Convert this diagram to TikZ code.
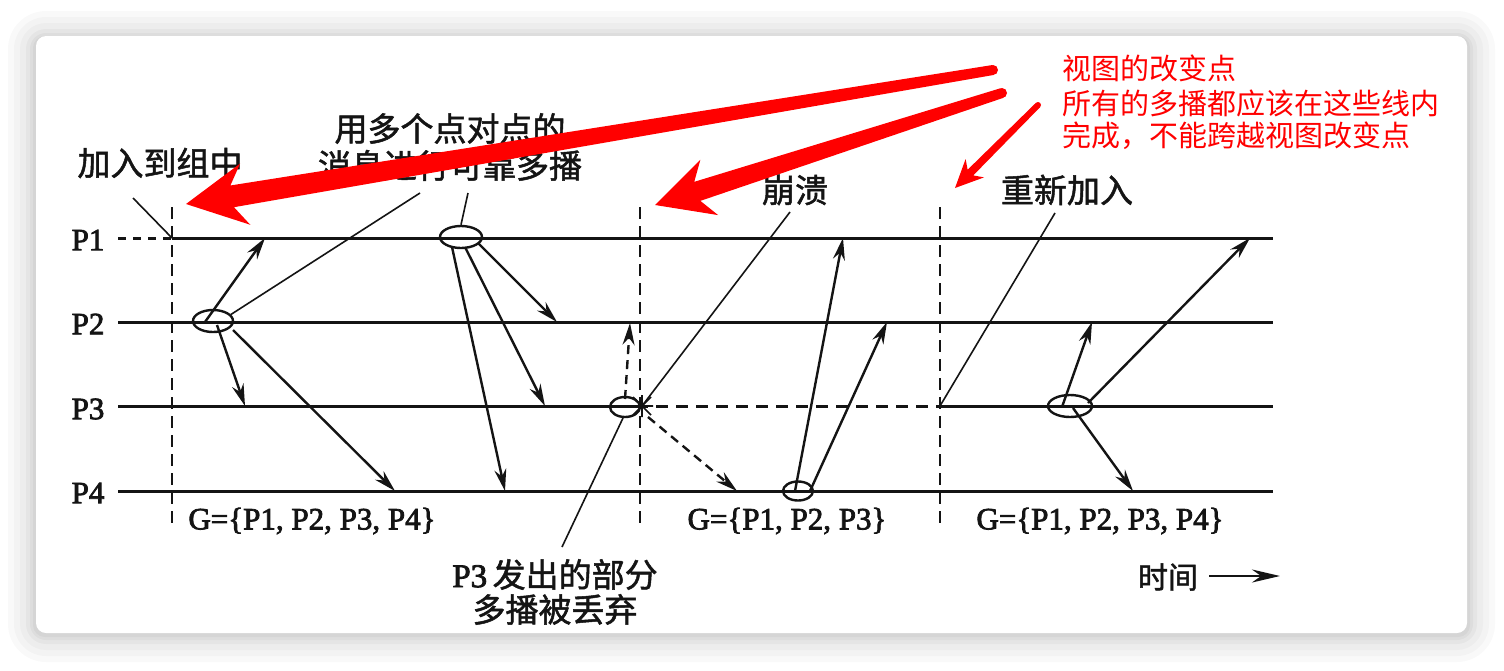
\documentclass[tikz,border=0pt]{standalone}
\usepackage{fontspec}
\setmainfont{Liberation Serif}
\newfontfamily\scanrm{Liberation Serif}[FakeBold=2.5]
\newfontfamily\cjk{Noto Sans CJK SC}[FakeBold=1.5]
\newfontfamily\cjknote{Noto Sans CJK SC}
\usetikzlibrary{arrows.meta,shapes.geometric,calc}

\definecolor{ink}{RGB}{20,20,20}
\definecolor{annored}{RGB}{255,0,0}

\tikzset{
  proc/.style={ink, line width=3pt},
  viewline/.style={ink, line width=2.4pt, dash pattern=on 12pt off 7pt},
  msg/.style={ink, line width=2.4pt, -{Stealth[length=22pt,width=12pt]}},
  lost/.style={msg, dash pattern=on 9pt off 6pt},
  tag/.style={ink, line width=1.6pt},
  ev/.style={draw=ink, line width=2.4pt, ellipse, inner sep=0pt},
  plabel/.style={text=ink, font=\scanrm\fontsize{31}{34}\selectfont},
  glabel/.style={text=ink, font=\scanrm\fontsize{31}{34}\selectfont},
  clabel/.style={text=ink, font=\cjk\fontsize{33}{37}\selectfont, align=center},
  note/.style={text=annored, font=\cjknote\fontsize{29}{34}\selectfont, anchor=west, inner sep=0pt},
}

%% tail, tip, tail half width, shaft half width, head length, head half width
\newcommand{\fatarrow}[6]{%
  \coordinate (fab) at ($(#2)!#5!(#1)$);
  \coordinate (fan) at ($(#2)!0.78!(fab)$);
  \fill[annored] ($(#1)!#3!90:(#2)$) -- ($(fan)!#4!-90:(#1)$) -- ($(fab)!#6!-90:(#1)$) -- (#2)
    -- ($(fab)!#6!90:(#1)$) -- ($(fan)!#4!90:(#1)$) -- ($(#1)!#3!-90:(#2)$) -- cycle;
  \fill[annored] (#1) circle[radius=#3];
}

\begin{document}
\begin{tikzpicture}[x=1pt,y=-1pt]
\useasboundingbox (0,0) rectangle (1504,670);

%% card
\fill[white] (0,0) rectangle (1504,670);
\fill[black, opacity=0.025, rounded corners=38pt] (8,11) rectangle (1495,662);
\fill[black, opacity=0.025, rounded corners=32pt] (14,17) rectangle (1489,656);
\fill[black, opacity=0.025, rounded corners=26pt] (20,23) rectangle (1483,650);
\fill[black, opacity=0.03, rounded corners=20pt] (26,29) rectangle (1477,644);
\fill[black, opacity=0.03, rounded corners=16pt] (30,33) rectangle (1473,640);
\fill[black, opacity=0.035, rounded corners=12pt] (33,36) rectangle (1470,637);
\fill[white, rounded corners=10pt] (36,36) rectangle (1467,633);

%% process labels
\node[plabel] (pl1) at (88,240) {P1};
\node[plabel] (pl2) at (88,324) {P2};
\node[plabel] (pl3) at (88,409) {P3};
\node[plabel] (pl4) at (88,493) {P4};

%% process lines
\coordinate (p1s) at (118,238);
\coordinate (p1j) at (172,238);
\coordinate (p1e) at (1273,238);
\coordinate (p2s) at (118,322);
\coordinate (p2e) at (1273,322);
\coordinate (p3s) at (118,406);
\coordinate (p3x) at (642,406);
\coordinate (p3r) at (940,406);
\coordinate (p3e) at (1273,406);
\coordinate (p4s) at (118,491);
\coordinate (p4e) at (1273,491);

\draw[proc, dash pattern=on 8pt off 7pt] (p1s) -- (p1j);
\draw[proc] (p1j) -- (p1e);
\draw[proc] (p2s) -- (p2e);
\draw[proc] (p3s) -- (p3x);
\draw[proc, dash pattern=on 12pt off 8pt, dash phase=-14pt] (p3x) -- (p3r);
\draw[proc] (p3r) -- (p3e);
\draw[proc] (p4s) -- (p4e);

%% view changes
\coordinate (v1t) at (172,207);
\coordinate (v1b) at (172,527);
\coordinate (v2t) at (640,207);
\coordinate (v2b) at (640,527);
\coordinate (v3t) at (940,207);
\coordinate (v3b) at (940,527);
\draw[viewline] (v1t) -- (v1b);
\draw[viewline] (v2t) -- (v2b);
\draw[viewline] (v3t) -- (v3b);

%% multicasts
\node[ev, minimum width=40pt, minimum height=22pt] (e2) at (213,321) {};
\node[ev, minimum width=42pt, minimum height=22pt] (e1) at (461,237) {};
\node[ev, minimum width=30pt, minimum height=20pt] (e3) at (625,407) {};
\node[ev, minimum width=30pt, minimum height=19pt] (e4) at (798,491) {};
\node[ev, minimum width=44pt, minimum height=22pt] (e5) at (1070,406) {};

\coordinate (m21) at (265,238);
\coordinate (m23) at (245,406);
\coordinate (m24) at (395,491);
\coordinate (m12) at (557,322);
\coordinate (m13) at (545,406);
\coordinate (m14) at (505,491);
\coordinate (m32) at (630,323);
\coordinate (m34) at (737,491);
\coordinate (m41) at (843,238);
\coordinate (m42) at (887,322);
\coordinate (m52) at (1092,322);
\coordinate (m51) at (1250,238);
\coordinate (m54) at (1133,491);

\draw[msg] ($(e2)+(-8,1)$) -- (m21);
\draw[msg] ($(e2)+(4,4)$) -- (m23);
\draw[msg] ($(e2)+(20,9)$) -- (m24);
\draw[msg] ($(e1)+(17,6)$) -- (m12);
\draw[msg] ($(e1)+(4,10)$) -- (m13);
\draw[msg] ($(e1)+(-9,10)$) -- (m14);
\draw[lost] ($(e3)+(0,-8)$) -- (m32);
\draw[lost] ($(e3)+(23,10)$) -- (m34);
\draw[msg] ($(e4)+(-3,0)$) -- (m41);
\draw[msg] ($(e4)+(12,0)$) -- (m42);
\draw[msg] ($(e5)+(-8,1)$) -- (m52);
\draw[msg] ($(e5)+(18,-3)$) -- (m51);
\draw[msg] ($(e5)+(3,2)$) -- (m54);

%% crash of P3
\draw[tag] ($(p3x)+(-9,-9)$) -- ($(p3x)+(9,9)$)
           ($(p3x)+(-9,9)$) -- ($(p3x)+(9,-9)$)
           ($(p3x)+(0,-11)$) -- ($(p3x)+(0,11)$)
           ($(p3x)+(-11,0)$) -- ($(p3x)+(11,0)$);

%% labels
\node[clabel] (join) at (160,163) {加入到组中};
\node[clabel] (multi) at (450,147) {用多个点对点的\\消息进行可靠多播};
\node[clabel] (crash) at (795,190) {崩溃};
\node[clabel] (rejoin) at (1067,190) {重新加入};
\node[clabel, font=\cjk\fontsize{33}{35}\selectfont] (drop) at (555,592) {{\scanrm P3}\,发出的部分\\多播被丢弃};
\node[glabel] (g1) at (312,521) {G=\{P1, P2, P3, P4\}};
\node[glabel] (g2) at (787,521) {G=\{P1, P2, P3\}};
\node[glabel] (g3) at (1100,521) {G=\{P1, P2, P3, P4\}};
\node[clabel, font=\cjk\fontsize{30}{34}\selectfont] (time) at (1168,577) {时间};

\coordinate (ta) at (1209,576);
\coordinate (tb) at (1280,576);
\draw[ink, line width=2.6pt, -{Stealth[length=28pt,width=13pt]}] (ta) -- (tb);

%% leaders
\coordinate (joinl) at (133,198);
\coordinate (multil) at (420,193);
\coordinate (multir) at (468,193);
\coordinate (crashl) at (790,212);
\coordinate (rejoinl) at (1055,213);
\coordinate (dropl) at (562,547);
\draw[tag] (joinl) -- (p1j);
\draw[tag] (multil) -- (e2.20);
\draw[tag] (multir) -- (e1.north);
\draw[tag] (crashl) -- (p3x);
\draw[tag] (rejoinl) -- (p3r);
\draw[tag] (dropl) -- ($(e3)+(-2,11)$);

%% red notes
\coordinate (r1t) at (993,70);
\coordinate (r1h) at (186,204);
\coordinate (r2t) at (1002,93);
\coordinate (r2h) at (655,205);
\coordinate (r3t) at (1038,105);
\coordinate (r3h) at (955,188);
\fatarrow{r1t}{r1h}{5pt}{11pt}{60pt}{31pt}
\fatarrow{r2t}{r2h}{5pt}{10pt}{57pt}{29pt}
\fatarrow{r3t}{r3h}{3pt}{4pt}{28pt}{13pt}

\node[note] (n1) at (1062,68) {视图的改变点};
\node[note] (n2) at (1062,103) {所有的多播都应该在这些线内};
\node[note] (n3) at (1062,136) {完成，不能跨越视图改变点};

\end{tikzpicture}
\end{document}
